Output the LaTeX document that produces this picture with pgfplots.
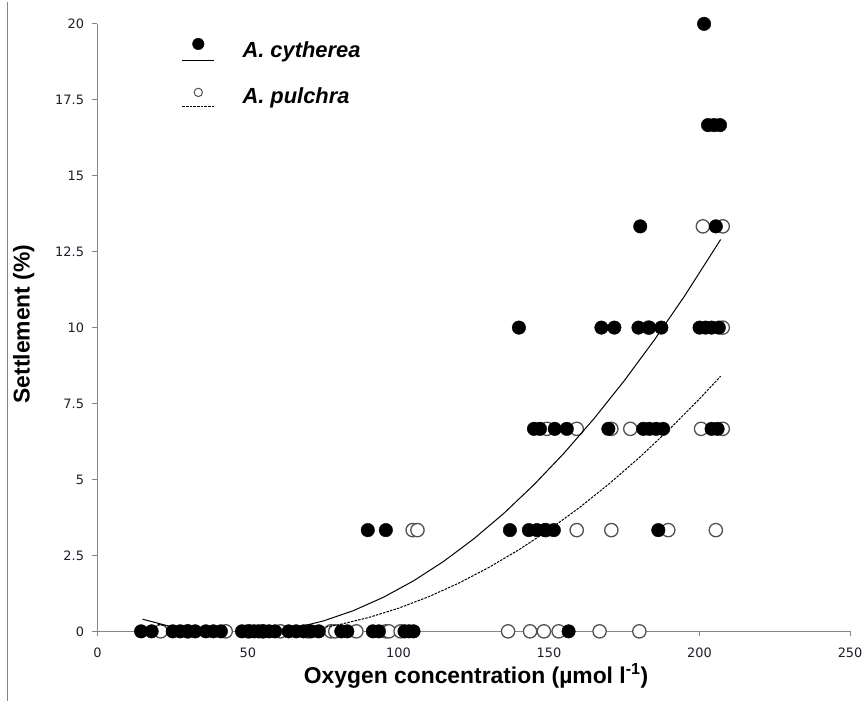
\documentclass[border=0pt]{standalone}
\usepackage{fontspec}
\setmainfont{Liberation Sans}
\newfontfamily\tickfont{DejaVu Sans}
\usepackage{pgfplots}
\pgfplotsset{compat=1.18}
\definecolor{axgray}{RGB}{134,134,134}
\definecolor{opengray}{RGB}{80,80,80}
\definecolor{ticktext}{RGB}{30,30,40}

\pgfplotsset{
    pulleg/.style={legend image code/.code={
        \draw[black, line width=1pt, dash pattern=on 2.5pt off 1.2pt] (0pt,-10.5pt) -- (32pt,-10.5pt);
        \draw[##1, mark size=4.2pt, mark options={draw=opengray, fill=white, line width=1pt}] plot coordinates {(16pt,4pt)};
    }},
    cytleg/.style={legend image code/.code={
        \draw[black, line width=1pt] (0pt,-10.5pt) -- (32pt,-10.5pt);
        \draw[##1, mark size=5.8pt] plot coordinates {(16pt,6pt)};
    }},
}

\begin{document}
\begin{tikzpicture}
\begin{axis}[
    name=ax,
    scale only axis,
    width=757pt, height=611pt,
    xmin=0, xmax=250, ymin=0, ymax=20,
    xtick={0,50,100,150,200,250},
    ytick={0,2.5,5,7.5,10,12.5,15,17.5,20},
    axis lines=left,
    axis line style={axgray, line width=1pt, -},
    tick align=outside,
    major tick length=5pt,
    tick style={axgray, line width=1pt},
    /pgf/number format/assume math mode=true,
    ticklabel style={font=\tickfont\fontsize{13}{15}\selectfont, text=ticktext},
    xticklabel style={yshift=-8.5pt},
    yticklabel style={xshift=-5pt},
    every axis x label/.style={at={(axis description cs:0.503,0)}, anchor=base, yshift=-52pt,
        font=\fontsize{23}{27}\selectfont\bfseries},
    every axis y label/.style={at={(axis description cs:-0.098,0.506)}, anchor=center, rotate=90,
        font=\fontsize{23}{27}\selectfont\bfseries},
    xlabel={Oxygen concentration (µmol l\textsuperscript{-1})},
    ylabel={Settlement (\%)},
    clip mode=individual,
    reverse legend,
    legend style={at={(0.108,0.98)}, anchor=north west, draw=none, fill=none,
        font=\fontsize{22}{26}\selectfont\bfseries\itshape,
        row sep=25pt, cells={anchor=west},
        /tikz/every odd column/.append style={column sep=26pt}},
]
% A. pulchra (open circles)
\addplot[only marks, mark=*, mark size=6.7pt,
    mark options={draw=opengray, fill=white, line width=1.3pt}, pulleg] coordinates {
    (21,0) (30,0) (42.6,0) (50,0) (55,0) (60.8,0) (70,0) (77.6,0) (79,0) (86,0)
    (95.8,0) (96.8,0) (100.7,0) (136.4,0) (143.7,0) (148.3,0) (153.2,0) (166.8,0) (180,0)
    (104.7,3.333) (106.3,3.333) (149,3.333) (159.2,3.333) (170.7,3.333) (189.6,3.333) (205.4,3.333)
    (149.3,6.667) (159.2,6.667) (170.7,6.667) (177,6.667) (200.5,6.667) (207.7,6.667)
    (183,10) (207.7,10)
    (201.1,13.333) (207.7,13.333)
};
\addlegendentry{A. pulchra}
% A. cytherea (filled circles)
\addplot[only marks, mark=*, mark size=6.8pt,
    mark options={draw=black, fill=black}, cytleg] coordinates {
    (14.5,0) (18,0) (25,0) (27.5,0) (30,0) (32.5,0) (36,0) (38.5,0) (41,0)
    (48,0) (50.5,0) (52,0) (53.5,0) (55,0) (57,0) (59,0) (63.5,0) (66,0) (68.5,0)
    (71,0) (73.5,0) (81,0) (83,0) (91.5,0) (93.5,0) (102,0) (103.5,0) (105,0) (156.5,0)
    (89.8,3.333) (95.8,3.333) (137,3.333) (143.3,3.333) (146,3.333) (148.6,3.333) (151.6,3.333) (186.3,3.333)
    (145,6.667) (147,6.667) (151.9,6.667) (155.9,6.667) (169.7,6.667) (181.3,6.667) (183.3,6.667)
    (185.6,6.667) (187.9,6.667) (204,6.667) (206,6.667)
    (140,10) (167.4,10) (171.7,10) (179.7,10) (183.3,10) (187.3,10) (200,10) (202,10) (204,10) (206.4,10)
    (180.3,13.333) (205.4,13.333)
    (202.8,16.667) (204.8,16.667) (206.8,16.667)
    (201.5,20)
};
\addlegendentry{A. cytherea}
% quadratic trend lines
\addplot[black, line width=1pt, no marks, forget plot] coordinates {
    (15,0.400) (25,0.140) (35,-0.020) (45,-0.080) (55,-0.040) (65,0.100) (75,0.341)
    (85,0.681) (95,1.122) (105,1.663) (115,2.304) (125,3.045) (135,3.886) (145,4.828)
    (155,5.869) (165,7.011) (175,8.253) (185,9.595) (195,11.037) (207,12.900)
};
\addplot[black, line width=1pt, no marks, dash pattern=on 2.5pt off 1.2pt, forget plot] coordinates {
    (20,0.237) (30,0.060) (40,-0.048) (50,-0.087) (60,-0.056) (70,0.044) (80,0.214)
    (90,0.453) (100,0.761) (110,1.139) (120,1.586) (130,2.103) (140,2.687) (150,3.342)
    (160,4.067) (170,4.861) (180,5.723) (190,6.655) (200,7.657) (207,8.399)
};
\end{axis}
\draw[axgray, line width=1pt] ([xshift=-90pt, yshift=-70pt]ax.south west) -- ([xshift=-90pt, yshift=22pt]ax.north west);
\pgfresetboundingbox
\path[use as bounding box] ([xshift=-98pt, yshift=-74pt]ax.south west) rectangle ([xshift=15pt, yshift=24pt]ax.north east);
\end{tikzpicture}
\end{document}
